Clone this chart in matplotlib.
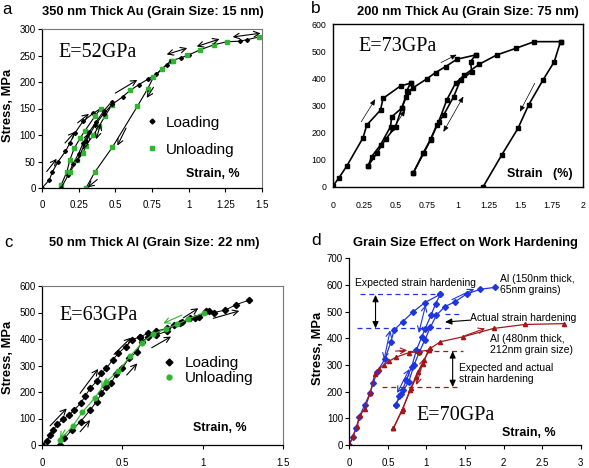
import matplotlib
matplotlib.use("Agg")
import matplotlib.pyplot as plt
from matplotlib.lines import Line2D

plt.rcParams["font.family"] = ["Liberation Sans", "DejaVu Sans"]

GREEN = "#2fb52f"
BLUE = "#1f35e0"
RED = "#a3161a"
SERIF = ["Liberation Serif", "DejaVu Serif"]

# ---------------- panel a: 350 nm thick Au ----------------
a_load1_x = [0, 0.05, 0.07, 0.11, 0.16, 0.19, 0.225, 0.28, 0.35, 0.40]
a_load1_y = [0, 15, 30, 50, 69, 85, 104, 126, 141, 150]
a_unload1_x = [0.40, 0.36, 0.29, 0.26, 0.22, 0.19, 0.17, 0.13]
a_unload1_y = [150, 135, 107, 94, 75, 53, 31, 5]
a_load2_x = [0.13, 0.18, 0.21, 0.25, 0.28, 0.32, 0.37, 0.42, 0.475]
a_load2_y = [0, 25, 45, 65, 85, 105, 125, 145, 163]
a_unload2_x = [0.475, 0.43, 0.39, 0.35, 0.30, 0.28, 0.24, 0.19]
a_unload2_y = [156, 136, 117, 100, 80, 66, 52, 30]
a_load3_x = [0.24, 0.30, 0.36, 0.42, 0.48, 0.55, 0.60, 0.66, 0.72, 0.78, 0.85, 0.88]
a_load3_y = [52, 88, 118, 140, 158, 172, 184, 195, 205, 215, 233, 240]
a_unload3_x = [0.88, 0.82, 0.76, 0.72, 0.65, 0.48, 0.36, 0.30]
a_unload3_y = [240, 225, 209, 187, 154, 77, 30, 0]
a_env_x = [0.88, 0.95, 1.0, 1.08, 1.17, 1.26, 1.35, 1.40, 1.48]
a_env_y = [240, 246, 251, 261, 270, 276, 277, 280, 285]
a_env_green_x = [0.60, 0.89, 0.99, 1.08, 1.17, 1.26, 1.48]
a_env_green_y = [184, 239, 251, 261, 270, 276, 285]
a_arrows = [
    (0.032, 31, 0.10, 55, "->"), (0.157, 85, 0.225, 106, "->"),
    (0.243, 123, 0.32, 140, "->"), (0.50, 179, 0.65, 204, "->"),
    (0.85, 252, 0.99, 264, "<->"), (1.055, 267, 1.21, 281, "<->"),
    (1.30, 285, 1.49, 292, "<->"), (0.573, 113, 0.514, 80, "->"),
    (0.76, 190, 0.714, 170, "->"), (0.377, 16, 0.31, 1, "->"),
    (0.28, 72, 0.32, 105, "<->"), (0.37, 92, 0.40, 122, "<->"),
]
a_xticks = [0, 0.25, 0.5, 0.75, 1, 1.25, 1.5]
a_xlabels = ["0", "0.25", "0.5", "0.75", "1", "1.25", "1.5"]
a_yticks = [0, 50, 100, 150, 200, 250, 300]

# ---------------- panel b: 200 nm thick Au ----------------
b_load1_x = [0, 0.045, 0.11, 0.24, 0.27, 0.38, 0.40, 0.54, 0.62]
b_load1_y = [4, 32, 77, 181, 228, 283, 326, 372, 382]
b_unload1_x = [0.62, 0.59, 0.58, 0.55, 0.47, 0.46, 0.38, 0.31, 0.28]
b_unload1_y = [382, 354, 330, 290, 259, 222, 155, 112, 77]
b_reload1_x = [0.28, 0.35, 0.42, 0.50, 0.55, 0.60, 0.64, 0.75, 0.82, 0.90, 0.99, 1.14]
b_reload1_y = [77, 124, 175, 222, 290, 350, 365, 398, 421, 443, 470, 486]
b_unload2_x = [1.14, 1.10, 1.11, 1.02, 0.965, 0.885, 0.83, 0.78, 0.72, 0.64]
b_unload2_y = [486, 461, 424, 394, 332, 265, 228, 175, 124, 50]
b_reload2_x = [0.64, 0.725, 0.78, 0.845, 0.91, 0.98, 1.05, 1.17, 1.31, 1.46, 1.61, 1.82]
b_reload2_y = [50, 124, 173, 240, 320, 382, 412, 452, 486, 510, 535, 535]
b_unload3_x = [1.82, 1.77, 1.68, 1.565, 1.48, 1.35, 1.20]
b_unload3_y = [535, 461, 394, 302, 216, 118, 0]
b_arrows = [
    (0.226, 240, 0.338, 323, "-|>"), (0.457, 197, 0.577, 283, "<|-|>"),
    (0.883, 203, 1.043, 333, "<|-|>"), (0.864, 458, 0.989, 487, "-|>"),
    (1.614, 382, 1.495, 277, "-|>"),
]
b_xticks = [0, 0.25, 0.5, 0.75, 1, 1.25, 1.5, 1.75, 2]
b_xlabels = ["0", "0.25", "0.5", "0.75", "1", "1.25", "1.5", "1.75", "2"]
b_yticks = [0, 100, 200, 300, 400, 500, 600]

# ---------------- panel c: 50 nm thick Al ----------------
c_load1_x = [0, 0.03, 0.05, 0.07, 0.095, 0.13, 0.17, 0.20, 0.24, 0.27, 0.30,
             0.34, 0.37, 0.40, 0.44, 0.475, 0.52, 0.56, 0.61]
c_load1_y = [0, 15, 38, 57, 78, 98, 113, 132, 157, 186, 214,
             241, 270, 289, 321, 346, 371, 396, 409]
c_load2_x = [0.11, 0.14, 0.185, 0.24, 0.30, 0.34, 0.37, 0.40, 0.43, 0.46, 0.50,
             0.54, 0.59, 0.62, 0.66, 0.71, 0.78, 0.82, 0.87, 0.92, 0.98, 1.02,
             1.07, 1.14, 1.21, 1.29]
c_load2_y = [0, 25, 57, 88, 132, 164, 195, 220, 233, 267, 289,
             327, 352, 390, 406, 415, 430, 453, 465, 478, 484, 505,
             500, 509, 530, 547]
c_env_x = [0.61, 0.66, 0.71, 0.78, 0.86, 0.95, 1.04]
c_env_y = [409, 421, 430, 440, 460, 478, 505]
c_unload_x = [1.01, 0.91, 0.84, 0.77, 0.69, 0.62, 0.55, 0.475, 0.40, 0.33, 0.25, 0.19, 0.11]
c_unload_y = [500, 475, 455, 438, 418, 384, 336, 279, 239, 179, 123, 70, 19]
c_arrows = [
    (0.05, 72, 0.154, 138, "->", "black"), (0.237, 195, 0.35, 287, "->", "black"),
    (0.448, 342, 0.554, 405, "->", "black"), (0.237, 50, 0.30, 94, "->", "black"),
    (0.527, 264, 0.593, 308, "->", "black"), (0.683, 367, 0.803, 409, "->", "black"),
    (0.88, 480, 0.973, 516, "->", "black"), (1.066, 478, 1.228, 506, "->", "black"),
    (0.87, 490, 0.755, 459, "->", GREEN), (0.40, 252, 0.37, 214, "->", GREEN),
    (0.143, 57, 0.112, 25, "->", GREEN),
]
c_xticks = [0, 0.5, 1, 1.5]
c_xlabels = ["0", "0.5", "1", "1.5"]
c_yticks = [0, 100, 200, 300, 400, 500, 600]

# ---------------- panel d: grain size effect ----------------
d_blue_load_x = [0, 0.044, 0.087, 0.13, 0.20, 0.27, 0.31, 0.36, 0.46, 0.54, 0.58,
                 0.69, 0.83, 0.98, 1.18]
d_blue_load_y = [0, 31, 62, 106, 150, 196, 231, 275, 321, 387, 431,
                 462, 500, 534, 565]
d_blue_unload_x = [1.18, 1.12, 1.06, 0.98, 0.94, 0.87, 0.81, 0.74, 0.69, 0.65, 0.60]
d_blue_unload_y = [565, 530, 487, 434, 406, 356, 294, 245, 206, 184, 150]
d_blue_reload_x = [0.60, 0.67, 0.77, 0.84, 0.91, 0.98, 1.05, 1.13, 1.24, 1.37, 1.52,
                   1.70, 1.89]
d_blue_reload_y = [150, 190, 237, 300, 350, 394, 441, 487, 519, 537, 566, 584, 591]
d_red_load_x = [0, 0.05, 0.10, 0.14, 0.20, 0.27, 0.33, 0.38, 0.45, 0.52, 0.61,
                0.77, 0.90, 1.03]
d_red_load_y = [0, 35, 70, 112, 135, 195, 265, 285, 300, 315, 330, 346, 350, 356]
d_red_unload_x = [1.03, 0.95, 0.87, 0.79, 0.68, 0.57]
d_red_unload_y = [356, 305, 255, 205, 128, 62]
d_red_reload_x = [0.57, 0.69, 0.80, 0.885, 0.97, 1.05, 1.18, 1.48, 1.87, 2.28, 2.78]
d_red_reload_y = [62, 134, 215, 272, 320, 362, 387, 406, 437, 452, 455]
d_dashes = [  # (level, x from, x to, colour)
    (565, 0.14, 1.18, BLUE), (437, 0.10, 1.35, BLUE), (491, 1.24, 1.46, BLUE),
    (352, 0.64, 1.47, RED), (217, 0.42, 1.42, RED),
]
d_spans = [(0.34, 563, 437), (1.34, 352, 217)]
d_arrows = [
    (0.45, 320, 0.53, 430, "<->", BLUE), (0.62, 195, 0.78, 285, "<->", BLUE),
    (0.90, 420, 0.99, 525, "<->", BLUE), (1.33, 545, 1.62, 585, "->", BLUE),
    (0.60, 352, 0.75, 355, "->", RED), (0.87, 225, 0.97, 325, "<->", RED),
    (1.50, 410, 1.76, 437, "->", RED),
]
d_xticks = [0, 0.5, 1, 1.5, 2, 2.5, 3]
d_xlabels = ["0", "0.5", "1", "1.5", "2", "2.5", "3"]
d_yticks = [0, 100, 200, 300, 400, 500, 600, 700]

W, H = 589, 468


def px_box(x0, y0, x1, y1):
    return [x0 / W, 1 - y1 / H, (x1 - x0) / W, (y1 - y0) / H]


def fig_xy(x, y):
    return x / W, 1 - y / H


def style_axes(ax, xlim, ylim, xticks, xlabels, yticks, box, size=7, xpad=7):
    ax.set_xlim(*xlim)
    ax.set_ylim(*ylim)
    ax.set_xticks(xticks)
    ax.set_xticklabels(xlabels)
    ax.set_yticks(yticks)
    ax.tick_params(axis="both", direction="out", length=3, width=0.8, labelsize=size)
    ax.tick_params(axis="x", pad=xpad)
    ax.tick_params(axis="y", pad=1.5)
    for side in ["left", "bottom"]:
        ax.spines[side].set_linewidth(0.9)
    if box:
        for side in ["top", "right"]:
            ax.spines[side].set_color("#777777")
            ax.spines[side].set_linewidth(0.8)
    else:
        ax.spines["top"].set_visible(False)
        ax.spines["right"].set_visible(False)
    ax.patch.set_alpha(0)


def draw_arrows(ax, arrows, lw=0.8, color="black"):
    for item in arrows:
        x0, y0, x1, y1, st = item[:5]
        col = item[5] if len(item) > 5 else color
        ax.annotate("", xy=(x1, y1), xytext=(x0, y0),
                    arrowprops=dict(arrowstyle=st, lw=lw, color=col,
                                    shrinkA=0, shrinkB=0))


fig = plt.figure(figsize=(W / 100, H / 100), dpi=100)

# ---- a ----
ax = fig.add_axes(px_box(42, 29, 262, 188))
style_axes(ax, (0, 1.5), (0, 300), a_xticks, a_xlabels, a_yticks, True, xpad=6)
blk = dict(color="black", lw=0.8, marker="D", ms=2, mfc="black", mec="black")
grn = dict(color="black", lw=0.8, marker="s", ms=2.6, mfc=GREEN, mec=GREEN)
ax.plot(a_load1_x, a_load1_y, **blk)
ax.plot(a_unload1_x, a_unload1_y, **grn)
ax.plot(a_load2_x, a_load2_y, **blk)
ax.plot(a_unload2_x, a_unload2_y, **grn)
ax.plot(a_load3_x, a_load3_y, **blk)
ax.plot(a_unload3_x, a_unload3_y, **grn)
ax.plot(a_env_x, a_env_y, **blk)
ax.plot(a_env_green_x, a_env_green_y, ls="none", marker="s", ms=2.6, color=GREEN)
draw_arrows(ax, a_arrows)
ax.text(0.11, 256, "E=52GPa", family=SERIF, fontsize=14.5, va="center")
ax.text(1.35, 27, "Strain, %", fontsize=9, fontweight="bold", ha="right", va="center")
handles = [Line2D([], [], ls="none", marker="D", ms=2.5, color="black"),
           Line2D([], [], ls="none", marker="s", ms=2.8, color=GREEN)]
ax.legend(handles, ["Loading", "Unloading"], loc="upper left",
          bbox_to_anchor=(0.485, 0.455), frameon=False, fontsize=11,
          handlelength=0.4, handletextpad=0.7, borderpad=0, borderaxespad=0,
          labelspacing=0.85)
fig.text(*fig_xy(8, 105), "Stress, MPa", rotation=90, fontsize=9.3,
         fontweight="bold", ha="center", va="center")
fig.text(*fig_xy(153, 12), "350 nm Thick Au (Grain Size: 15 nm)", fontsize=9.3,
         fontweight="bold", ha="center", va="center")
fig.text(*fig_xy(2, 2), "a", fontsize=12, va="top")

# ---- b ----
ax = fig.add_axes(px_box(333, 24, 583, 187))
style_axes(ax, (0, 2), (0, 600), b_xticks, b_xlabels, b_yticks, True, size=6.3, xpad=8)
for side in ax.spines.values():
    side.set_color("black")
    side.set_linewidth(1.0)
ax.tick_params(axis="both", length=0)
ax.tick_params(axis="y", pad=5)
ax.tick_params(axis="x", pad=10)
bl = dict(color="black", lw=1.2, marker="s", ms=2.3)
for xs, ys in [(b_load1_x, b_load1_y), (b_unload1_x, b_unload1_y),
               (b_reload1_x, b_reload1_y), (b_unload2_x, b_unload2_y),
               (b_reload2_x, b_reload2_y), (b_unload3_x, b_unload3_y)]:
    ax.plot(xs, ys, **bl)
for x0, y0, x1, y1, st in b_arrows:
    ax.annotate("", xy=(x1, y1), xytext=(x0, y0),
                arrowprops=dict(arrowstyle=st + ",head_length=0.35,head_width=0.15",
                                lw=0.5, color="black", shrinkA=0, shrinkB=0))
ax.text(0.2, 516, "E=73GPa", family=SERIF, fontsize=14.5, va="center")
ax.text(1.92, 47, "Strain   (%)", fontsize=9, fontweight="bold", ha="right", va="center")
fig.text(*fig_xy(468, 12), "200 nm Thick Au (Grain Size: 75 nm)", fontsize=9.3,
         fontweight="bold", ha="center", va="center")
fig.text(*fig_xy(311, 1), "b", fontsize=12.5, va="top")

# ---- c ----
ax = fig.add_axes(px_box(42, 286, 283, 445))
style_axes(ax, (0, 1.5), (0, 600), c_xticks, c_xlabels, c_yticks, True, xpad=6)
cb = dict(color="black", lw=0.7, marker="D", ms=3.2)
ax.plot(c_load1_x, c_load1_y, **cb)
ax.plot(c_env_x, c_env_y, **cb)
ax.plot(c_load2_x, c_load2_y, **cb)
ax.plot(c_unload_x, c_unload_y, color=GREEN, lw=0.8, marker="o", ms=3.3)
draw_arrows(ax, c_arrows)
ax.text(0.11, 490, "E=63GPa", family=SERIF, fontsize=14.5, va="center")
ax.text(1.275, 64, "Strain, %", fontsize=9, fontweight="bold", ha="right", va="center")
handles = [Line2D([], [], ls="none", marker="D", ms=3.5, color="black"),
           Line2D([], [], ls="none", marker="o", ms=3.5, color=GREEN)]
ax.legend(handles, ["Loading", "Unloading"], loc="upper left",
          bbox_to_anchor=(0.515, 0.56), frameon=False, fontsize=11,
          handlelength=0.4, handletextpad=0.8, borderpad=0, borderaxespad=0,
          labelspacing=0.1)
fig.text(*fig_xy(8, 357), "Stress, MPa", rotation=90, fontsize=9.3,
         fontweight="bold", ha="center", va="center")
fig.text(*fig_xy(154, 243), "50 nm Thick Al (Grain Size: 22 nm)", fontsize=9.3,
         fontweight="bold", ha="center", va="center")
fig.text(*fig_xy(4, 235), "c", fontsize=12, va="top")

# ---- d ----
ax = fig.add_axes(px_box(349.3, 258.3, 580.7, 445))
style_axes(ax, (0, 3), (0, 700), d_xticks, d_xlabels, d_yticks, False, xpad=6)
ax.plot(d_blue_load_x, d_blue_load_y, color=BLUE, lw=0.9, marker="D", ms=3)
ax.plot(d_blue_unload_x, d_blue_unload_y, color=BLUE, lw=0.9, marker="D", ms=3)
ax.plot(d_blue_reload_x, d_blue_reload_y, color=BLUE, lw=0.9, marker="D", ms=3)
ax.plot(d_red_load_x, d_red_load_y, color=RED, lw=0.9, marker="^", ms=3)
ax.plot(d_red_unload_x, d_red_unload_y, color=RED, lw=0.9, marker="^", ms=3)
ax.plot(d_red_reload_x, d_red_reload_y, color=RED, lw=0.9, marker="^", ms=3)
for level, x0, x1, col in d_dashes:
    ax.plot([x0, x1], [level, level], color=col, lw=0.9, ls=(0, (4, 3)))
for xv, y0, y1 in d_spans:
    ax.annotate("", xy=(xv, y1), xytext=(xv, y0),
                arrowprops=dict(arrowstyle="<|-|>,head_length=0.4,head_width=0.18",
                                lw=0.8, color="black", shrinkA=0, shrinkB=0))
draw_arrows(ax, d_arrows)
ax.annotate("", xy=(1.24, 461), xytext=(1.56, 468),
            arrowprops=dict(arrowstyle="-|>,head_length=0.4,head_width=0.18",
                            lw=0.8, color="black", shrinkA=0, shrinkB=0))
ann = dict(fontsize=7.5, va="center", linespacing=1.15)
ax.text(0.074, 606, "Expected strain hardening", **ann)
ax.text(1.96, 603, "Al (150nm thick,\n65nm grains)", **ann)
ax.text(1.57, 477, "Actual strain hardening", **ann)
ax.text(1.83, 376, "Al (480nm thick,\n212nm grain size)", **ann)
ax.text(1.42, 268, "Expected and actual\nstrain hardening", **ann)
ax.text(0.875, 112, "E=70GPa", family=SERIF, fontsize=14.5, va="center")
ax.text(2.68, 45, "Strain, %", fontsize=9, fontweight="bold", ha="right", va="center")
fig.text(*fig_xy(318, 348), "Stress, MPa", rotation=90, fontsize=9.3,
         fontweight="bold", ha="center", va="center")
fig.text(*fig_xy(465, 243), "Grain Size Effect on Work Hardening", fontsize=9.3,
         fontweight="bold", ha="center", va="center")
fig.text(*fig_xy(311, 233), "d", fontsize=12.5, va="top")

fig.savefig("out.png", dpi=100)
